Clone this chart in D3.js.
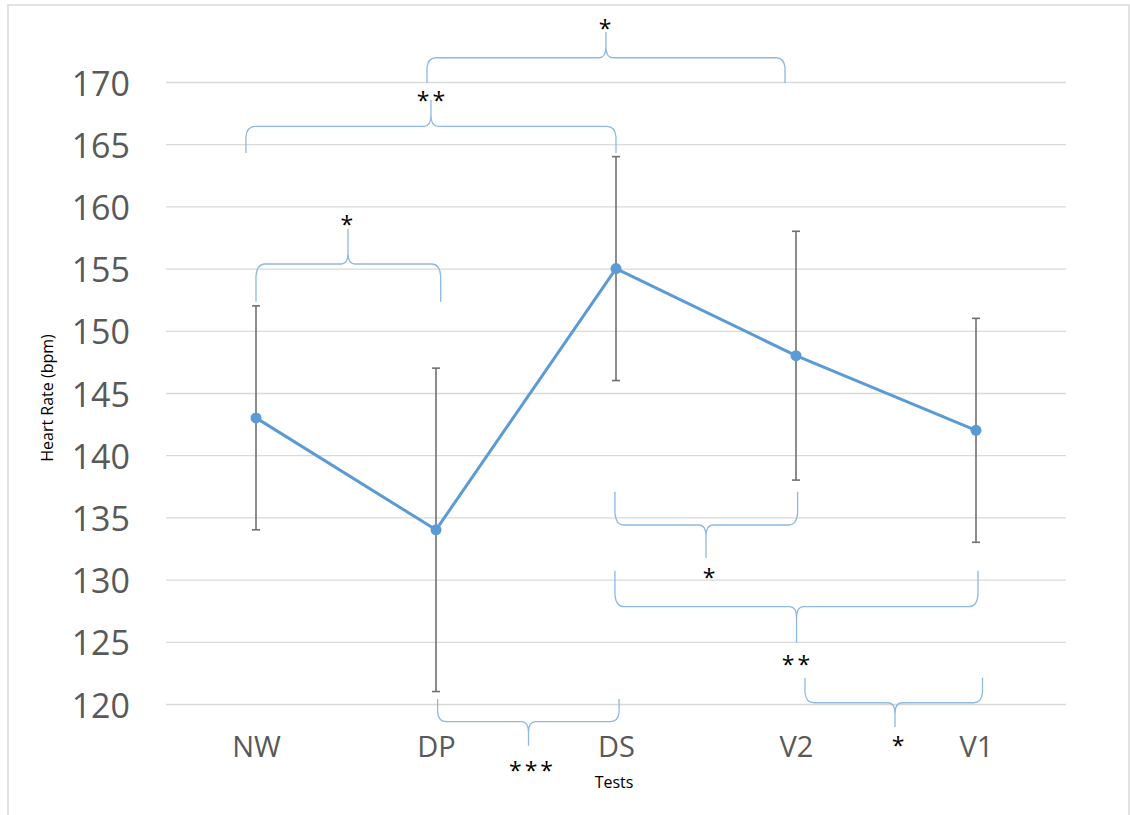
<!DOCTYPE html>
<html>
<head>
<meta charset="utf-8">
<script src="https://cdn.jsdelivr.net/npm/d3@7"></script>
<style>
  body { margin: 0; background: #fff; }
  text { font-family: "Open Sans", "Segoe UI", sans-serif; }
</style>
</head>
<body>
<div id="chart"></div>
<script>
var svgWidth = 1130;
var svgHeight = 815;

// data
var categories = ["NW", "DP", "DS", "V2", "V1"];
var means = [143, 134, 155, 148, 142];
var upper = [152, 147, 164, 158, 151];
var lower = [134, 121, 146, 138, 133];
var yTicks = [120, 125, 130, 135, 140, 145, 150, 155, 160, 165, 170];

// significance braces: x in category index units, y in bpm
var braceFrom = [0.0, -0.056, 0.95, 1.994, 1.994, 3.05, 1.009];
var braceTo = [1.026, 2.0, 2.939, 3.009, 4.011, 4.036, 2.017];
var braceTipX = [0.511, 0.972, 1.944, 2.5, 3.003, 3.55, 1.514];
var braceLine = [155.37, 166.44, 171.95, 134.39, 127.82, 120.10, 118.58];
var braceEnd = [152.34, 164.29, 169.92, 137.07, 130.71, 122.11, 120.40];
var braceTipY = [158.2, 168.55, 174.02, 131.74, 124.93, 118.15, 116.65];
var braceStars = ["*", "**", "*", "*", "**", "*", "***"];
var braceLabelX = [0.505, 0.972, 1.939, 2.517, 3.0, 3.567, 1.528];
var braceLabelY = [158.9, 168.87, 174.66, 130.53, 123.54, 117.03, 115.02];

var svg = d3.select("#chart")
  .append("svg")
  .attr("width", svgWidth)
  .attr("height", svgHeight);

svg.append("rect")
  .attr("x", 8).attr("y", 5)
  .attr("width", 1121).attr("height", 830)
  .attr("fill", "#fff")
  .attr("stroke", "#d9d9d9")
  .attr("stroke-width", 1.5);

var xScale = d3.scalePoint()
  .domain(categories)
  .range([166, 1066])
  .padding(0.5);

var xIndex = d3.scaleLinear()
  .domain([0, categories.length - 1])
  .range([xScale(categories[0]), xScale(categories[categories.length - 1])]);

var yScale = d3.scaleLinear()
  .domain([120, 170])
  .range([704, 82]);

// gridlines + y labels
var leftAxis = d3.axisLeft(yScale)
  .tickValues(yTicks)
  .tickSize(-900)
  .tickPadding(36)
  .tickFormat(d3.format("d"));

var yAxis = svg.append("g")
  .attr("transform", "translate(166,0)")
  .call(leftAxis);
yAxis.select(".domain").remove();
yAxis.selectAll("line").attr("stroke", "#d9d9d9").attr("stroke-width", 1.3);
yAxis.selectAll("text")
  .attr("fill", "#595959")
  .attr("font-size", 34)
  .attr("dy", null)
  .attr("dominant-baseline", "central");

// x labels
var bottomAxis = d3.axisBottom(xScale).tickSize(0).tickPadding(0);
var xAxis = svg.append("g")
  .attr("transform", "translate(0,757)")
  .call(bottomAxis);
xAxis.select(".domain").remove();
xAxis.selectAll("text")
  .attr("fill", "#595959")
  .attr("font-size", 29)
  .attr("dy", 0)
  .attr("y", 0);

// axis titles
svg.append("text")
  .attr("transform", "translate(53,398) rotate(-90)")
  .attr("text-anchor", "middle")
  .attr("font-size", 16)
  .attr("fill", "#000")
  .text("Heart Rate (bpm)");

svg.append("text")
  .attr("x", 614).attr("y", 788)
  .attr("text-anchor", "middle")
  .attr("font-size", 16)
  .attr("fill", "#000")
  .text("Tests");

// braces
function bracePath(xa, xb, xt, yl, ye, yt) {
  var dir = ye > yl ? 1 : -1;
  var r = 9;
  var rv = Math.min(12, Math.abs(ye - yl) * 0.4);
  var c = 7, h = 11;
  var p = d3.path();
  p.moveTo(xa, ye);
  p.lineTo(xa, yl + dir * rv);
  p.quadraticCurveTo(xa + 1, yl, xa + r, yl);
  p.lineTo(xt - c, yl);
  p.quadraticCurveTo(xt, yl, xt, yl - dir * h);
  p.lineTo(xt, yt);
  p.moveTo(xt, yl - dir * h);
  p.quadraticCurveTo(xt, yl, xt + c, yl);
  p.lineTo(xb - r, yl);
  p.quadraticCurveTo(xb - 1, yl, xb, yl + dir * rv);
  p.lineTo(xb, ye);
  return p.toString();
}

var braceGroup = svg.append("g");
braceStars.forEach(function(s, i) {
  braceGroup.append("path")
    .attr("d", bracePath(xIndex(braceFrom[i]), xIndex(braceTo[i]), xIndex(braceTipX[i]),
      yScale(braceLine[i]), yScale(braceEnd[i]), yScale(braceTipY[i])))
    .attr("fill", "none")
    .attr("stroke", "#8db9e3")
    .attr("stroke-width", 1.3);

  braceGroup.append("text")
    .attr("x", xIndex(braceLabelX[i]) + 1.5)
    .attr("y", yScale(braceLabelY[i]) + 13)
    .attr("text-anchor", "middle")
    .attr("font-size", 23)
    .attr("letter-spacing", 3)
    .attr("fill", "#000")
    .text(s);
});

// error bars
var errGroup = svg.append("g")
  .attr("stroke", "#707070")
  .attr("stroke-width", 1.6);

categories.forEach(function(c, i) {
  var cx = xScale(c);
  errGroup.append("line")
    .attr("x1", cx).attr("x2", cx)
    .attr("y1", yScale(upper[i])).attr("y2", yScale(lower[i]));
  errGroup.append("line")
    .attr("x1", cx - 4).attr("x2", cx + 4)
    .attr("y1", yScale(upper[i])).attr("y2", yScale(upper[i]));
  errGroup.append("line")
    .attr("x1", cx - 4).attr("x2", cx + 4)
    .attr("y1", yScale(lower[i])).attr("y2", yScale(lower[i]));
});

// mean line + markers
var line = d3.line()
  .x(function(d, i) { return xScale(categories[i]); })
  .y(function(d) { return yScale(d); });

svg.append("path")
  .datum(means)
  .attr("d", line)
  .attr("fill", "none")
  .attr("stroke", "#5b9bd5")
  .attr("stroke-width", 3)
  .attr("stroke-linejoin", "round");

svg.selectAll("circle.pt")
  .data(means)
  .enter()
  .append("circle")
  .attr("class", "pt")
  .attr("cx", function(d, i) { return xScale(categories[i]); })
  .attr("cy", function(d) { return yScale(d); })
  .attr("r", 5.5)
  .attr("fill", "#5b9bd5");
</script>
</body>
</html>
